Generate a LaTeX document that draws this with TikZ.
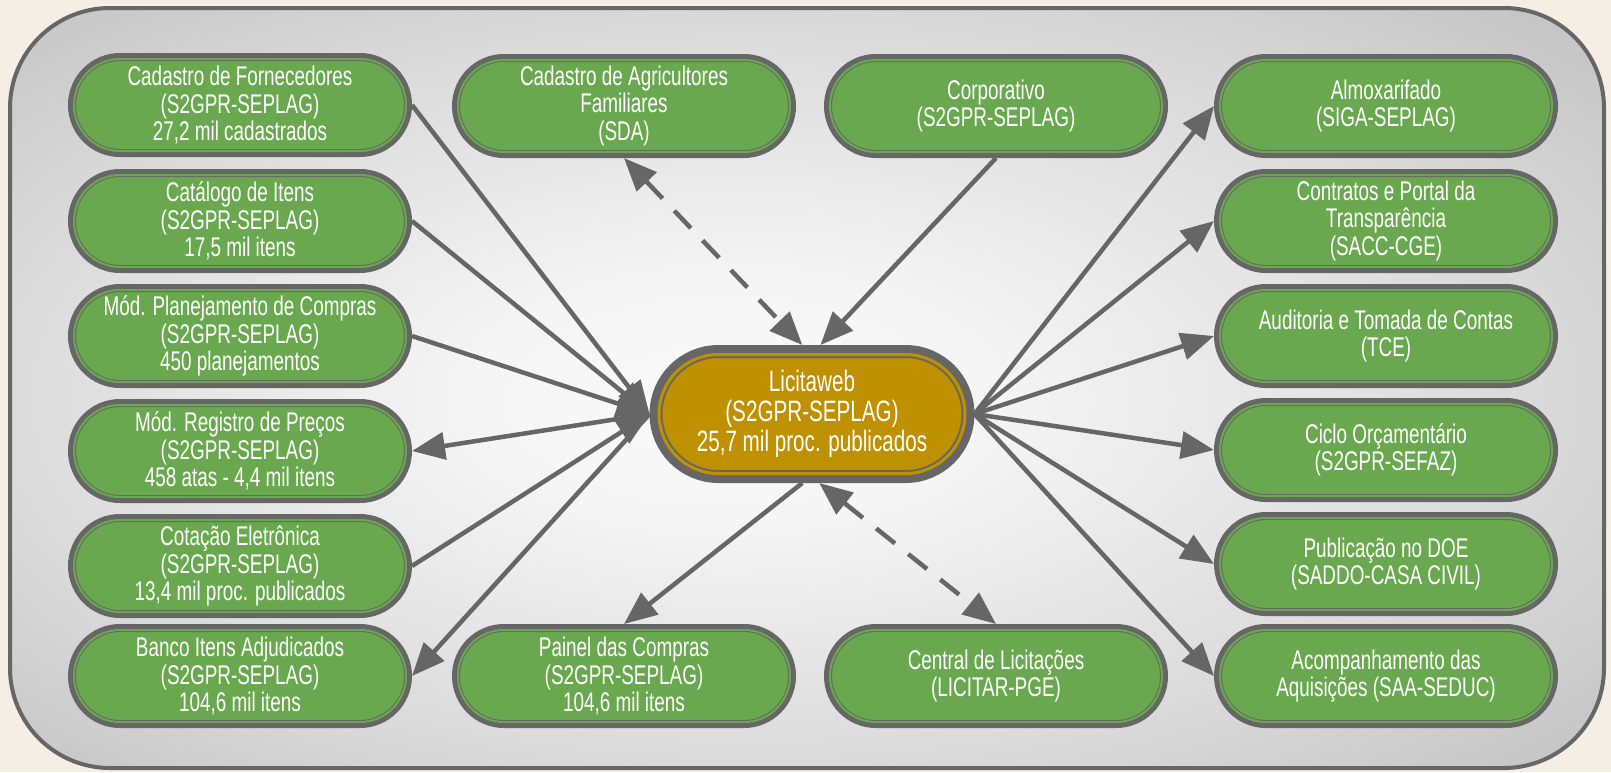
\documentclass[tikz,border=0pt]{standalone}
\usepackage{fontspec}
\setmainfont{Liberation Sans}[FakeStretch=0.70]
\usetikzlibrary{arrows.meta}

\definecolor{fundo}{HTML}{F4EEE4}
\definecolor{borda}{HTML}{666666}
\definecolor{verde}{HTML}{6AA84F}
\definecolor{ouro}{HTML}{BF9000}
\pgfdeclareradialshading{painelcinza}{\pgfpoint{-3bp}{-1bp}}{color(0bp)=(gray!4); color(8bp)=(gray!8); color(25bp)=(gray!30); color(35bp)=(gray!46); color(50bp)=(gray!62)}

\begin{document}
\begin{tikzpicture}[x=1pt, y=-1pt,
    sistema/.style={rectangle, rounded corners=46pt, fill=verde, text=white,
      minimum width=332pt, minimum height=92pt, align=center, outer sep=6pt,
      font=\fontsize{27}{27.5}\selectfont,
      preaction={draw=borda, line width=12pt},
      draw=borda, double=verde, line width=1pt, double distance=2pt},
    central/.style={rectangle, rounded corners=59.5pt, fill=ouro, text=white,
      minimum width=306pt, minimum height=119pt, align=center, outer sep=9.5pt,
      font=\fontsize{29.5}{30}\selectfont,
      preaction={draw=borda, line width=19pt},
      draw=borda, double=ouro, line width=2pt, double distance=3pt},
    seta/.style={draw=borda, line width=4.5pt, -{Triangle[length=33pt, width=27pt]}},
    dupla/.style={draw=borda, line width=4.5pt, dash pattern=on 24pt off 17pt,
      {Triangle[length=33pt, width=27pt]}-{Triangle[length=33pt, width=27pt]}}]

    \fill [fundo] (0, 0) rectangle (1611, 772);
    \useasboundingbox (0, 0) rectangle (1611, 772);
    \shade [shading=painelcinza, rounded corners=100pt] (10, 8) rectangle (1604, 768);
    \draw [borda, line width=4pt, rounded corners=100pt] (10, 8) rectangle (1604, 768);

    \node [central] (lic) at (812, 414) {Licitaweb\\(S2GPR-SEPLAG)\\25,7 mil proc. publicados};

    \node [sistema] (forn) at (240, 105) {Cadastro de Fornecedores\\(S2GPR-SEPLAG)\\27,2 mil cadastrados};
    \node [sistema] (cat) at (240, 221) {Catálogo de Itens\\(S2GPR-SEPLAG)\\17,5 mil itens};
    \node [sistema] (plan) at (240, 336) {Mód. Planejamento de Compras\\(S2GPR-SEPLAG)\\450 planejamentos};
    \node [sistema] (reg) at (240, 451) {Mód. Registro de Preços\\(S2GPR-SEPLAG)\\458 atas - 4,4 mil itens};
    \node [sistema] (cot) at (240, 566) {Cotação Eletrônica\\(S2GPR-SEPLAG)\\13,4 mil proc. publicados};
    \node [sistema] (banco) at (240, 676) {Banco Itens Adjudicados\\(S2GPR-SEPLAG)\\104,6 mil itens};

    \node [sistema] (sda) at (624, 106) {Cadastro de Agricultores\\Familiares\\(SDA)};
    \node [sistema] (corp) at (996, 106) {Corporativo\\(S2GPR-SEPLAG)};
    \node [sistema] (painel) at (624, 676) {Painel das Compras\\(S2GPR-SEPLAG)\\104,6 mil itens};
    \node [sistema] (pge) at (996, 676) {Central de Licitações\\(LICITAR-PGE)};

    \node [sistema] (almox) at (1386, 106) {Almoxarifado\\(SIGA-SEPLAG)};
    \node [sistema] (contr) at (1386, 221) {Contratos e Portal da\\Transparência\\(SACC-CGE)};
    \node [sistema] (tce) at (1386, 336) {Auditoria e Tomada de Contas\\(TCE)};
    \node [sistema] (ciclo) at (1386, 450) {Ciclo Orçamentário\\(S2GPR-SEFAZ)};
    \node [sistema] (doe) at (1386, 564) {Publicação no DOE\\(SADDO-CASA CIVIL)};
    \node [sistema] (saa) at (1386, 676) {Acompanhamento das\\Aquisições (SAA-SEDUC)};

    \draw [seta] (forn.east) -- (lic.west);
    \draw [seta] (cat.east) -- (lic.west);
    \draw [seta] (plan.east) -- (lic.west);
    \draw [seta, {Triangle[length=33pt, width=27pt]}-] (reg.east) -- (lic.west);
    \draw [seta] (cot.east) -- (lic.west);
    \draw [seta] (lic.west) -- (banco.east);

    \draw [dupla] (sda.south) -- (lic.98);
    \draw [seta] (corp.south) -- (lic.83);
    \draw [seta] (lic.262) -- (painel.north);
    \draw [dupla] (lic.276) -- (pge.north);

    \foreach \destino in {almox, contr, tce, ciclo, doe, saa}
      \draw [seta] (lic.east) -- (\destino.west);
  \end{tikzpicture}
\end{document}
